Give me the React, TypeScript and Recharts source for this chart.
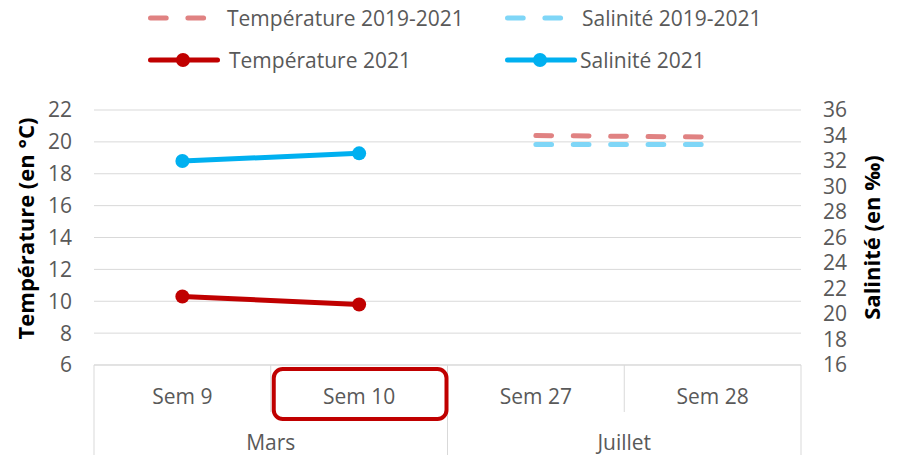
import React from "react";
import { LineChart, Line, XAxis, YAxis, CartesianGrid, Legend } from "recharts";

// categories (two levels: week / month)
const weeks = ["Sem 9", "Sem 10", "Sem 27", "Sem 28"];
const months = ["Mars", "Mars", "Juillet", "Juillet"];
const highlightedWeek = "Sem 10";

// series values
const temp2021 = [10.3, 9.8, null, null];
const sal2021 = [32.0, 32.6, null, null];
const tempRef = [null, null, 20.4, 20.3];
const salRef = [null, null, 33.3, 33.3];

// axis ticks
const tempTicks = [6, 8, 10, 12, 14, 16, 18, 20, 22];
const salTicks = [16, 18, 20, 22, 24, 26, 28, 30, 32, 34, 36];

const W = 899;
const H = 455;
const FONT = "'Open Sans', sans-serif";
const GRID = "#D9D9D9";
const TEXT = "#595959";
const RED = "#C00000";
const BLUE = "#00B0F0";
const RED_LIGHT = "#E08282";
const BLUE_LIGHT = "#7FD6F7";
const DASH = "15.7 21.7";

const data = weeks.map((w, i) => ({
  week: w,
  month: months[i],
  temp2021: temp2021[i],
  sal2021: sal2021[i],
  tempRef: tempRef[i],
  salRef: salRef[i],
}));

const series = [
  { key: "tempRef", name: "Température 2019-2021", color: RED_LIGHT, axis: "left", dashed: true },
  { key: "salRef", name: "Salinité 2019-2021", color: BLUE_LIGHT, axis: "right", dashed: true },
  { key: "temp2021", name: "Température 2021", color: RED, axis: "left", dashed: false },
  { key: "sal2021", name: "Salinité 2021", color: BLUE, axis: "right", dashed: false },
];

// legend slot positions (icon start x, row y, text x)
const legendSlots = [
  { x: 148, y: 18, tx: 227 },
  { x: 505, y: 18, tx: 582 },
  { x: 148, y: 60, tx: 229 },
  { x: 505, y: 60, tx: 580 },
];

function ChartLegend() {
  return (
    <svg width={W} height={80} style={{ display: "block" }}>
      {series.map((s, i) => {
        const p = legendSlots[i];
        return (
          <g key={s.key}>
            {s.dashed ? (
              <line
                x1={p.x + 2.5}
                x2={p.x + 57}
                y1={p.y}
                y2={p.y}
                stroke={s.color}
                strokeWidth={5}
                strokeDasharray={DASH}
                strokeLinecap="round"
              />
            ) : (
              <g>
                <line x1={p.x + 2.5} x2={p.x + 69.5} y1={p.y} y2={p.y} stroke={s.color} strokeWidth={5} strokeLinecap="round" />
                <circle cx={p.x + 35} cy={p.y} r={7} fill={s.color} />
              </g>
            )}
            <text x={p.tx} y={p.y} dy="0.36em" fontFamily={FONT} fontSize={21} fill={TEXT}>
              {s.name}
            </text>
          </g>
        );
      })}
    </svg>
  );
}

function WeekTick(props: any) {
  const { x, y, payload } = props;
  const i = payload?.index ?? props.index ?? 0;
  const half = payload?.offset || (801 - 94) / weeks.length / 2;
  const left = x - half;
  const right = x + half;
  const month = months[i];
  const groupStart = i === 0 || months[i - 1] !== month;
  const groupEnd = i === months.length - 1 || months[i + 1] !== month;
  const groupSize = months.filter((m) => m === month).length;
  const isHl = payload?.value === highlightedWeek;
  return (
    <g>
      {i === 0 && <line x1={left} x2={left} y1={y} y2={y + 90} stroke={GRID} strokeWidth={1} />}
      <line x1={right} x2={right} y1={y} y2={groupEnd ? y + 90 : y + 47} stroke={GRID} strokeWidth={1} />
      <text x={x} y={y + 31} dy="0.36em" textAnchor="middle" fontFamily={FONT} fontSize={21} fill={TEXT}>
        {payload?.value}
      </text>
      {groupStart && (
        <text
          x={left + groupSize * half}
          y={y + 77}
          dy="0.36em"
          textAnchor="middle"
          fontFamily={FONT}
          fontSize={21}
          fill={TEXT}
        >
          {month}
        </text>
      )}
      {isHl && (
        <rect
          x={left + 3}
          y={y + 4}
          width={2 * half - 4}
          height={50}
          rx={9}
          ry={9}
          fill="none"
          stroke={RED}
          strokeWidth={4}
        />
      )}
    </g>
  );
}

function AxisTitle(props: any) {
  const { viewBox, text, cx, shift } = props;
  const vb = viewBox || { x: 0, y: 110, width: 94, height: 255 };
  const x = vb.x + cx;
  const y = vb.y + vb.height / 2 + shift;
  return (
    <text
      x={x}
      y={y}
      transform={`rotate(-90, ${x}, ${y})`}
      textAnchor="middle"
      dy="0.36em"
      fontFamily={FONT}
      fontWeight="bold"
      fontSize={22}
      fill="#000000"
    >
      {text}
    </text>
  );
}

export default function App() {
  return (
    <div style={{ position: "absolute", left: 0, top: 0, width: W, height: H, background: "#fff" }}>
      <LineChart width={W} height={H} data={data} margin={{ top: 30, right: 0, bottom: 0, left: 0 }}>
        <CartesianGrid yAxisId="left" vertical={false} stroke={GRID} strokeWidth={1} />
        <XAxis
          dataKey="week"
          scale="band"
          height={90}
          interval={0}
          tickSize={0}
          tickMargin={0}
          tickLine={false}
          axisLine={{ stroke: GRID, strokeWidth: 1 }}
          tick={<WeekTick />}
        />
        <YAxis
          yAxisId="left"
          orientation="left"
          width={94}
          domain={[6, 22]}
          ticks={tempTicks}
          interval={0}
          axisLine={false}
          tickLine={false}
          tickSize={0}
          tickMargin={22}
          tick={{ fontFamily: FONT, fontSize: 21, fill: TEXT }}
          label={(p: any) => <AxisTitle {...p} text="Température (en °C)" cx={26} shift={-9} />}
        />
        <YAxis
          yAxisId="right"
          orientation="right"
          width={98}
          domain={[16, 36]}
          ticks={salTicks}
          interval={0}
          axisLine={false}
          tickLine={false}
          tickSize={0}
          tickMargin={22}
          tick={{ fontFamily: FONT, fontSize: 21, fill: TEXT }}
          label={(p: any) => <AxisTitle {...p} text="Salinité (en ‰)" cx={71} shift={0} />}
        />
        <Legend
          verticalAlign="top"
          content={() => <ChartLegend />}
          wrapperStyle={{ position: "absolute", top: 0, left: 0, width: W, height: 80 }}
        />
        {series.map((s) => (
          <Line
            key={s.key}
            yAxisId={s.axis}
            dataKey={s.key}
            name={s.name}
            type="linear"
            stroke={s.color}
            strokeWidth={5}
            strokeDasharray={s.dashed ? DASH : undefined}
            strokeLinecap="round"
            dot={s.dashed ? false : { r: 7, fill: s.color, stroke: s.color, strokeWidth: 0 }}
            activeDot={false}
            isAnimationActive={false}
          />
        ))}
      </LineChart>
    </div>
  );
}
